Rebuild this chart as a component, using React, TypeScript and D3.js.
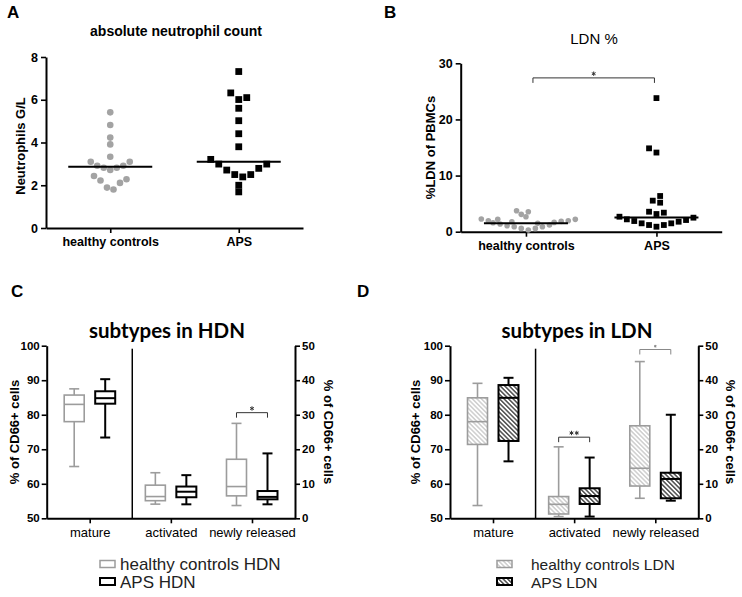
import * as d3 from "d3";
import { useEffect, useRef } from "react";

const FONT = "'Liberation Sans', Arial, Helvetica, sans-serif";
const TITLE_FONT = "Lato, 'Open Sans', sans-serif";
const GRAY = "#9c9c9c";

// panels A and B
const groups = ["healthy controls", "APS"];

// A: absolute neutrophil count (G/L)
const ancHealthy = [5.41, 4.82, 4.23, 3.91, 3.33, 3.1, 3.1, 2.91, 2.82, 2.82, 2.91, 2.71, 2.43, 2.28, 2.11, 2.22, 1.89, 1.8];
const ancAps = [7.32, 6.32, 6.1, 6.01, 5.6, 5.02, 4.41, 3.8, 3.21, 2.99, 2.99, 2.79, 2.71, 2.5, 2.5, 2.39, 2.0, 1.69];
const ancMedian = [2.86, 3.1];
const ancTicks = [0, 2, 4, 6, 8];

// B: LDN % of PBMCs
const ldnHealthy = [3.56, 3.74, 3.09, 2.67, 2.26, 2.2, 2.2, 1.96, 1.96, 1.84, 1.78, 1.66, 1.6, 1.49, 1.37, 1.19, 1.07, 0.89, 0.89, 0.59, 0.59, 0.3];
const ldnAps = [23.8, 14.85, 14.1, 6.36, 5.53, 5.17, 3.56, 3.39, 3.15, 2.67, 2.5, 2.2, 2.08, 1.9, 1.78, 1.49, 1.49, 1.19, 1.19, 0.89];
const ldnMedian = [1.5, 2.55];
const ldnTicks = [0, 10, 20, 30];
const ldnSigY = 27.4;

// panels C and D
const subtypes = ["mature", "activated", "newly released"];
const leftTicks = [50, 60, 70, 80, 90, 100];
const rightTicks = [0, 10, 20, 30, 40, 50];
// [min, q1, median, q3, max]; mature is read on the left axis, the others on the right axis
const hdnHealthy = [[65.0, 78.0, 83.0, 85.7, 87.5], [4.1, 5.1, 6.3, 9.6, 13.2], [3.7, 6.5, 9.2, 17.1, 27.5]];
const hdnAps = [[73.4, 83.2, 84.8, 86.8, 90.3], [4.05, 6.1, 7.7, 9.2, 12.5], [4.05, 5.5, 6.2, 7.9, 18.8]];
const ldnHealthyBox = [[53.7, 71.4, 78.0, 84.9, 89.1], [0.5, 1.25, 4.05, 6.3, 20.7], [5.8, 9.35, 14.5, 26.8, 45.4]];
const ldnApsBox = [[66.5, 72.4, 84.9, 88.6, 90.7], [0.5, 4.15, 6.45, 8.7, 17.6], [5.1, 5.8, 11.4, 13.2, 30.0]];
const hdnSig = [{ idx: 2, stars: 1, y: 30.6 }];
const ldnBoxSig = [{ idx: 1, stars: 2, y: 23.5 }, { idx: 2, stars: 1, y: 48.9 }];

type Sel = d3.Selection<any, any, any, any>;

// GraphPad-like scatter: values that chain closely together form a row,
// spread outwards from the centre; leftover overlaps get nudged sideways
function swarm(values: number[], y: (v: number) => number, gap: number, step: number, size: number, square: boolean) {
  const sorted = [...values].sort((a, b) => a - b);
  const rows: number[][] = [];
  sorted.forEach((v, i) => {
    if (i > 0 && Math.abs(y(v) - y(sorted[i - 1])) <= gap) rows[rows.length - 1].push(v);
    else rows.push([v]);
  });
  const placed: { dx: number; y: number }[] = [];
  const hits = (dx: number, py: number) =>
    placed.some((q) =>
      square
        ? Math.max(Math.abs(q.dx - dx), Math.abs(q.y - py)) < size * 0.9
        : Math.hypot(q.dx - dx, q.y - py) < size * 0.9
    );
  rows.forEach((row) => {
    const n = row.length;
    row.forEach((v, j) => {
      const py = y(v);
      let dx =
        n % 2 === 1
          ? j === 0 ? 0 : (j % 2 ? 1 : -1) * Math.ceil(j / 2) * step
          : (j % 2 ? -1 : 1) * (Math.floor(j / 2) + 0.5) * step;
      const base = dx;
      for (let k = 1; k < 60 && hits(dx, py); k++) {
        dx = base + (k % 2 ? -1 : 1) * Math.ceil(k / 2) * (step / 2);
      }
      placed.push({ dx, y: py });
    });
  });
  return placed;
}

function styleAxis(sel: Sel, size: number, weight: string) {
  sel.attr("font-family", FONT).attr("font-size", size).attr("font-weight", weight);
  sel.select(".domain").attr("stroke", "#000").attr("stroke-width", 2);
  sel.selectAll(".tick line").attr("stroke", "#000").attr("stroke-width", 1.6);
  sel.selectAll(".tick text").attr("fill", "#000");
}

// small asterisks drawn as strokes
function asterisks(g: Sel, cx: number, cy: number, n: number, r: number, color: string) {
  for (let i = 0; i < n; i++) {
    const x0 = cx + (i - (n - 1) / 2) * (r * 2.4);
    let d = "";
    for (let a = 0; a < 3; a++) {
      const t = (a * Math.PI) / 3 + Math.PI / 2;
      d += `M${x0 + r * Math.cos(t)},${cy + r * Math.sin(t)}L${x0 - r * Math.cos(t)},${cy - r * Math.sin(t)}`;
    }
    g.append("path").attr("d", d).attr("stroke", color).attr("stroke-width", 1).attr("fill", "none");
  }
}

function bracket(g: Sel, x1: number, x2: number, y: number, stars: number, color = "#333", r = 2.2) {
  g.append("path")
    .attr("d", `M${x1},${y + 5}V${y}H${x2}V${y + 5}`)
    .attr("fill", "none")
    .attr("stroke", color)
    .attr("stroke-width", 1);
  asterisks(g, (x1 + x2) / 2, y - r - 2, stars, r, color);
}

function scatterPanel(svg: Sel, cfg: any) {
  const g = svg.append("g");
  const x = d3.scalePoint<string>().domain(groups).range([cfg.left, cfg.right]).padding(0.5);
  const y = d3.scaleLinear().domain([0, cfg.max]).range([cfg.bottom, cfg.top]);

  g.append("text").attr("x", cfg.letterX).attr("y", 18).attr("font-family", FONT)
    .attr("font-size", 17).attr("font-weight", "bold").text(cfg.letter);
  g.append("text").attr("x", cfg.titleX).attr("y", cfg.titleY).attr("text-anchor", "middle")
    .attr("font-family", FONT).attr("font-size", cfg.titleSize).attr("font-weight", cfg.titleWeight)
    .text(cfg.title);

  const ya = g.append("g").attr("transform", `translate(${cfg.left},0)`)
    .call(d3.axisLeft(y).tickValues(cfg.ticks).tickSize(5).tickSizeOuter(0).tickPadding(3));
  styleAxis(ya, 12.5, "bold");
  const xa = g.append("g").attr("transform", `translate(0,${cfg.bottom})`)
    .call(d3.axisBottom(x).tickSize(5).tickSizeOuter(0).tickPadding(4));
  styleAxis(xa, 12.5, "bold");

  g.append("text")
    .attr("transform", `translate(${cfg.ylabX},${cfg.ylabY}) rotate(-90)`)
    .attr("text-anchor", "middle").attr("font-family", FONT).attr("font-size", 13)
    .attr("font-weight", "bold").text(cfg.ylab);

  // healthy controls: grey dots
  const hx = x(groups[0])!;
  swarm(cfg.healthy, y, cfg.gap, cfg.dotStep, cfg.dot * 2, false).forEach((p) => {
    g.append("circle").attr("cx", hx + p.dx).attr("cy", p.y).attr("r", cfg.dot).attr("fill", "#a3a3a3");
  });
  // APS: black squares
  const ax = x(groups[1])!;
  swarm(cfg.aps, y, cfg.gap, cfg.sqStep, cfg.sq, true).forEach((p) => {
    g.append("rect").attr("x", ax + p.dx - cfg.sq / 2).attr("y", p.y - cfg.sq / 2)
      .attr("width", cfg.sq).attr("height", cfg.sq).attr("fill", "#000");
  });
  // medians
  cfg.median.forEach((m: number, i: number) => {
    const cx = x(groups[i])!;
    g.append("line").attr("x1", cx - 42).attr("x2", cx + 42).attr("y1", y(m)).attr("y2", y(m))
      .attr("stroke", "#000").attr("stroke-width", 2);
  });
  if (cfg.sigY !== undefined) bracket(g, hx + 7, ax - 2, y(cfg.sigY), 1);
}

function boxPanel(svg: Sel, cfg: any) {
  const g = svg.append("g");
  const top = 345.7;
  const bottom = 518.3;
  const x = d3.scalePoint<string>().domain(subtypes).range([cfg.left, cfg.right]).padding(0.53);
  const yL = d3.scaleLinear().domain([50, 100]).range([bottom, top]);
  const yR = d3.scaleLinear().domain([0, 50]).range([bottom, top]);

  g.append("text").attr("x", cfg.letterX).attr("y", 297).attr("font-family", FONT)
    .attr("font-size", 17).attr("font-weight", "bold").text(cfg.letter);
  g.append("text").attr("x", cfg.titleX).attr("y", 337.5).attr("text-anchor", "middle")
    .attr("font-family", TITLE_FONT).attr("font-size", 20.5).attr("font-weight", "bold").text(cfg.title);

  const la = g.append("g").attr("transform", `translate(${cfg.left},0)`)
    .call(d3.axisLeft(yL).tickValues(leftTicks).tickSize(5).tickSizeOuter(0).tickPadding(2));
  styleAxis(la, 11.5, "bold");
  const ra = g.append("g").attr("transform", `translate(${cfg.right},0)`)
    .call(d3.axisRight(yR).tickValues(rightTicks).tickSize(5).tickSizeOuter(0).tickPadding(2));
  styleAxis(ra, 11.5, "bold");
  const xa = g.append("g").attr("transform", `translate(0,${bottom})`)
    .call(d3.axisBottom(x).tickSize(5).tickSizeOuter(0).tickPadding(4));
  styleAxis(xa, 13, "normal");

  const sep = (x(subtypes[0])! + x(subtypes[1])!) / 2 + 2;
  g.append("line").attr("x1", sep).attr("x2", sep).attr("y1", top + 3).attr("y2", bottom)
    .attr("stroke", "#000").attr("stroke-width", 1.5);

  const midY = (top + bottom) / 2;
  g.append("text").attr("transform", `translate(${cfg.ylabL},${midY}) rotate(-90)`)
    .attr("text-anchor", "middle").attr("font-family", FONT).attr("font-size", 13)
    .attr("font-weight", "bold").text("% of CD66+ cells");
  g.append("text").attr("transform", `translate(${cfg.ylabR},${midY}) rotate(90)`)
    .attr("text-anchor", "middle").attr("font-family", FONT).attr("font-size", 13)
    .attr("font-weight", "bold").text("% of CD66+ cells");

  const bw = 20;
  const off = 15.5;
  const drawBox = (cx: number, s: number[], y: d3.ScaleLinear<number, number>, color: string, sw: number, fill: string) => {
    const [mn, q1, md, q3, mx] = s;
    g.append("line").attr("x1", cx).attr("x2", cx).attr("y1", y(mx)).attr("y2", y(mn))
      .attr("stroke", color).attr("stroke-width", sw);
    [mn, mx].forEach((v) =>
      g.append("line").attr("x1", cx - 5).attr("x2", cx + 5).attr("y1", y(v)).attr("y2", y(v))
        .attr("stroke", color).attr("stroke-width", sw)
    );
    g.append("rect").attr("x", cx - bw / 2).attr("y", y(q3)).attr("width", bw).attr("height", y(q1) - y(q3))
      .attr("fill", fill).attr("stroke", color).attr("stroke-width", sw);
    g.append("line").attr("x1", cx - bw / 2).attr("x2", cx + bw / 2).attr("y1", y(md)).attr("y2", y(md))
      .attr("stroke", color).attr("stroke-width", sw);
  };

  const hFill = cfg.hatched ? "url(#hatchGray)" : "#fff";
  const aFill = cfg.hatched ? "url(#hatchBlack)" : "#fff";
  subtypes.forEach((s, i) => {
    const y = i === 0 ? yL : yR;
    drawBox(x(s)! - off, cfg.healthy[i], y, GRAY, 1.6, hFill);
    drawBox(x(s)! + off, cfg.aps[i], y, "#000", 2, aFill);
  });
  cfg.sig.forEach((sg: any) => {
    const cx = x(subtypes[sg.idx])!;
    const faint = sg.y > 45;
    bracket(g, cx - off, cx + off, yR(sg.y), sg.stars, faint ? "#888" : "#333", faint ? 1.3 : 2.2);
  });

  // legend
  cfg.legend.forEach((lab: string, i: number) => {
    const ly = 560.5 + i * 17.5;
    g.append("rect").attr("x", cfg.legX).attr("y", ly).attr("width", 15).attr("height", 7)
      .attr("fill", i === 0 ? hFill : aFill).attr("stroke", i === 0 ? GRAY : "#000")
      .attr("stroke-width", i === 0 ? 1.5 : 2);
    g.append("text").attr("x", cfg.legTextX).attr("y", ly + 9.5)
      .attr("font-family", FONT).attr("font-size", cfg.legSize).attr("fill", "#222").text(lab);
  });
}

export default function App() {
  const ref = useRef<SVGSVGElement>(null);

  useEffect(() => {
    if (!ref.current) return;
    const svg = d3.select(ref.current);
    svg.selectAll("*").remove();

    const defs = svg.append("defs");
    const hatch = (id: string, color: string, sw: number) => {
      const p = defs.append("pattern").attr("id", id).attr("patternUnits", "userSpaceOnUse")
        .attr("width", 3.2).attr("height", 3.2).attr("patternTransform", "rotate(-45)");
      p.append("rect").attr("width", 3.2).attr("height", 3.2).attr("fill", "#fff");
      p.append("line").attr("x1", 0.8).attr("y1", 0).attr("x2", 0.8).attr("y2", 3.2)
        .attr("stroke", color).attr("stroke-width", sw);
    };
    hatch("hatchGray", "#b5b5b5", 1);
    hatch("hatchBlack", "#222", 1.2);

    scatterPanel(svg, {
      left: 46, right: 303, top: 57, bottom: 228, max: 8, ticks: ancTicks,
      healthy: ancHealthy, aps: ancAps, median: ancMedian,
      dot: 3.3, sq: 6.8, gap: 4.8, dotStep: 6.5, sqStep: 8,
      letter: "A", letterX: 7, title: "absolute neutrophil count", titleX: 176, titleY: 36,
      titleSize: 14, titleWeight: "bold", ylab: "Neutrophils G/L", ylabX: 25, ylabY: 146,
    });
    scatterPanel(svg, {
      left: 460.7, right: 721.7, top: 63.3, bottom: 231.7, max: 30, ticks: ldnTicks,
      healthy: ldnHealthy, aps: ldnAps, median: ldnMedian, sigY: ldnSigY,
      dot: 2.8, sq: 5.8, gap: 2.2, dotStep: 4.7, sqStep: 7.4,
      letter: "B", letterX: 384, title: "LDN %", titleX: 594, titleY: 43.5,
      titleSize: 15, titleWeight: "normal", ylab: "%LDN of PBMCs", ylabX: 434.5, ylabY: 147.5,
    });
    boxPanel(svg, {
      left: 46.7, right: 295, letter: "C", letterX: 11, title: "subtypes in HDN", titleX: 167,
      healthy: hdnHealthy, aps: hdnAps, hatched: false, sig: hdnSig,
      ylabL: 18.5, ylabR: 324, legend: ["healthy controls HDN", "APS HDN"],
      legX: 100, legTextX: 120, legSize: 17,
    });
    boxPanel(svg, {
      left: 450, right: 698.3, letter: "D", letterX: 357, title: "subtypes in LDN", titleX: 577,
      healthy: ldnHealthyBox, aps: ldnApsBox, hatched: true, sig: ldnBoxSig,
      ylabL: 419.5, ylabR: 726, legend: ["healthy controls LDN", "APS LDN"],
      legX: 497, legTextX: 531, legSize: 15.5,
    });
  }, []);

  return (
    <svg
      ref={ref}
      width={742}
      height={597}
      style={{ position: "absolute", left: 0, top: 0, background: "#fff" }}
    />
  );
}
